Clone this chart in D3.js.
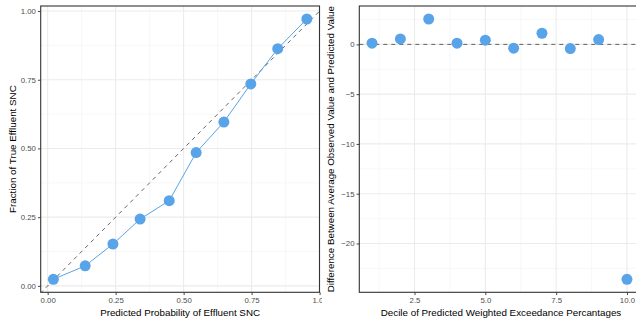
<!DOCTYPE html>
<html>
<head>
<meta charset="utf-8">
<script src="https://cdn.jsdelivr.net/npm/d3@7"></script>
<style>
  html, body { margin: 0; padding: 0; background: #fff; }
  svg { display: block; font-family: "Liberation Sans", Arial, Helvetica, sans-serif; }
</style>
</head>
<body>
<svg id="chart" width="636" height="325"></svg>
<script>
// ---- Data ----
const calibPredicted = [0.021, 0.138, 0.240, 0.340, 0.447, 0.546, 0.648, 0.747, 0.846, 0.953];
const calibObserved  = [0.024, 0.073, 0.152, 0.243, 0.310, 0.485, 0.596, 0.735, 0.863, 0.971];
const deciles        = [1, 2, 3, 4, 5, 6, 7, 8, 9, 10];
const decileDiff     = [0.12, 0.55, 2.55, 0.12, 0.42, -0.38, 1.12, -0.42, 0.48, -23.6];
const leftXTicks = [0, 0.25, 0.5, 0.75, 1.0];
const leftYTicks = [0, 0.25, 0.5, 0.75, 1.0];
const rightXTicks = [2.5, 5.0, 7.5, 10.0];
const rightYTicks = [0, -5, -10, -15, -20];

const pointColor = "#59a4e8";
const svg = d3.select("#chart");

function expand(ext) {
  const d = (ext[1] - ext[0]) * 0.05;
  return [ext[0] - d, ext[1] + d];
}

function panel(g, x, y, xTicks, yTicks, xMinor, yMinor) {
  const [x0, x1] = x.range();
  const [y0, y1] = y.range();
  g.selectAll(".vminor").data(xMinor).join("line")
    .attr("x1", d => x(d)).attr("x2", d => x(d)).attr("y1", y0).attr("y2", y1)
    .attr("stroke", "#f2f2f2").attr("stroke-width", 0.6);
  g.selectAll(".hminor").data(yMinor).join("line")
    .attr("y1", d => y(d)).attr("y2", d => y(d)).attr("x1", x0).attr("x2", x1)
    .attr("stroke", "#f2f2f2").attr("stroke-width", 0.6);
  g.selectAll(".vmajor").data(xTicks).join("line")
    .attr("x1", d => x(d)).attr("x2", d => x(d)).attr("y1", y0).attr("y2", y1)
    .attr("stroke", "#ebebeb").attr("stroke-width", 1.1);
  g.selectAll(".hmajor").data(yTicks).join("line")
    .attr("y1", d => y(d)).attr("y2", d => y(d)).attr("x1", x0).attr("x2", x1)
    .attr("stroke", "#ebebeb").attr("stroke-width", 1.1);
}

function axes(g, x, y, xTicks, yTicks, xFmt, yFmt) {
  const [x0, x1] = x.range();
  const [y0, y1] = y.range();
  const xa = g.append("g").attr("transform", `translate(0,${y0})`)
    .call(d3.axisBottom(x).tickValues(xTicks).tickFormat(xFmt).tickSizeInner(2.75).tickSizeOuter(0).tickPadding(2));
  const ya = g.append("g").attr("transform", `translate(${x0},0)`)
    .call(d3.axisLeft(y).tickValues(yTicks).tickFormat(yFmt).tickSizeInner(2.75).tickSizeOuter(0).tickPadding(2));
  [xa, ya].forEach(a => {
    a.select(".domain").remove();
    a.selectAll(".tick line").attr("stroke", "#333333").attr("stroke-width", 0.9);
    a.selectAll(".tick text").attr("fill", "#4d4d4d").style("font-size", "7.8px")
      .style("font-family", '"Liberation Sans", Arial, sans-serif');
  });
  g.append("rect").attr("x", x0).attr("y", y1).attr("width", x1 - x0).attr("height", y0 - y1)
    .attr("fill", "none").attr("stroke", "#333333").attr("stroke-width", 1.1);
}

// ---- Left panel ----
const defs = svg.append("defs");
defs.append("clipPath").attr("id", "leftClip").append("rect")
  .attr("x", 0).attr("y", 0).attr("width", 322).attr("height", 325);
defs.append("clipPath").attr("id", "leftPanelClip").append("rect")
  .attr("x", 40.7).attr("y", 6).attr("width", 278.8).attr("height", 286.3);

const L = svg.append("g").attr("clip-path", "url(#leftClip)");
const xL = d3.scaleLinear().domain(expand(d3.extent(calibPredicted))).range([40.7, 319.5]);
const yL = d3.scaleLinear().domain(expand(d3.extent(calibObserved))).range([292.3, 6]);
panel(L, xL, yL, leftXTicks, leftYTicks,
  [0.125, 0.375, 0.625, 0.875], [0.125, 0.375, 0.625, 0.875]);

L.append("g").attr("clip-path", "url(#leftPanelClip)").append("line")
  .attr("x1", xL(-1)).attr("y1", yL(-1)).attr("x2", xL(2)).attr("y2", yL(2))
  .attr("stroke", "#555").attr("stroke-width", 0.9).attr("stroke-dasharray", "4,4");

const pts = calibPredicted.map((p, i) => [p, calibObserved[i]]);
L.append("path").datum(pts)
  .attr("d", d3.line().x(d => xL(d[0])).y(d => yL(d[1])))
  .attr("fill", "none").attr("stroke", pointColor).attr("stroke-width", 1);
L.selectAll(".pt").data(pts).join("circle")
  .attr("cx", d => xL(d[0])).attr("cy", d => yL(d[1])).attr("r", 5.5)
  .attr("fill", pointColor);

axes(L, xL, yL, leftXTicks, leftYTicks, d3.format(".2f"), d3.format(".2f"));

L.append("text").attr("x", (40.7 + 319.5) / 2).attr("y", 315.5)
  .attr("text-anchor", "middle").style("font-size", "9.8px").attr("fill", "#000")
  .text("Predicted Probability of Effluent SNC");
L.append("text").attr("transform", `translate(16,${(6 + 292.3) / 2}) rotate(-90)`)
  .attr("text-anchor", "middle").style("font-size", "9.8px").attr("fill", "#000")
  .text("Fraction of True Effluent SNC");

// ---- Right panel ----
const R = svg.append("g");
const xR = d3.scaleLinear().domain(expand(d3.extent(deciles))).range([359.3, 639.7]);
const yR = d3.scaleLinear().domain(expand(d3.extent(decileDiff))).range([292.3, 6]);
panel(R, xR, yR, rightXTicks, rightYTicks,
  [1.25, 3.75, 6.25, 8.75], [2.5, -2.5, -7.5, -12.5, -17.5, -22.5]);

R.append("line").attr("x1", 359.3).attr("x2", 639.7).attr("y1", yR(0)).attr("y2", yR(0))
  .attr("stroke", "#555").attr("stroke-width", 0.9).attr("stroke-dasharray", "4,4");

R.selectAll(".pt").data(deciles.map((d, i) => [d, decileDiff[i]])).join("circle")
  .attr("cx", d => xR(d[0])).attr("cy", d => yR(d[1])).attr("r", 5.5)
  .attr("fill", pointColor);

axes(R, xR, yR, rightXTicks, rightYTicks, d3.format(".1f"), d => d < 0 ? "\u2212" + Math.abs(d) : String(d));

R.append("text").attr("x", 501).attr("y", 315.5)
  .attr("text-anchor", "middle").style("font-size", "9.8px").attr("fill", "#000")
  .text("Decile of Predicted Weighted Exceedance Percantages");
R.append("text").attr("transform", `translate(334,${(6 + 292.3) / 2}) rotate(-90)`)
  .attr("text-anchor", "middle").style("font-size", "9.8px").attr("fill", "#000")
  .text("Difference Between Average Observed Value and Predicted Value");
</script>
</body>
</html>
